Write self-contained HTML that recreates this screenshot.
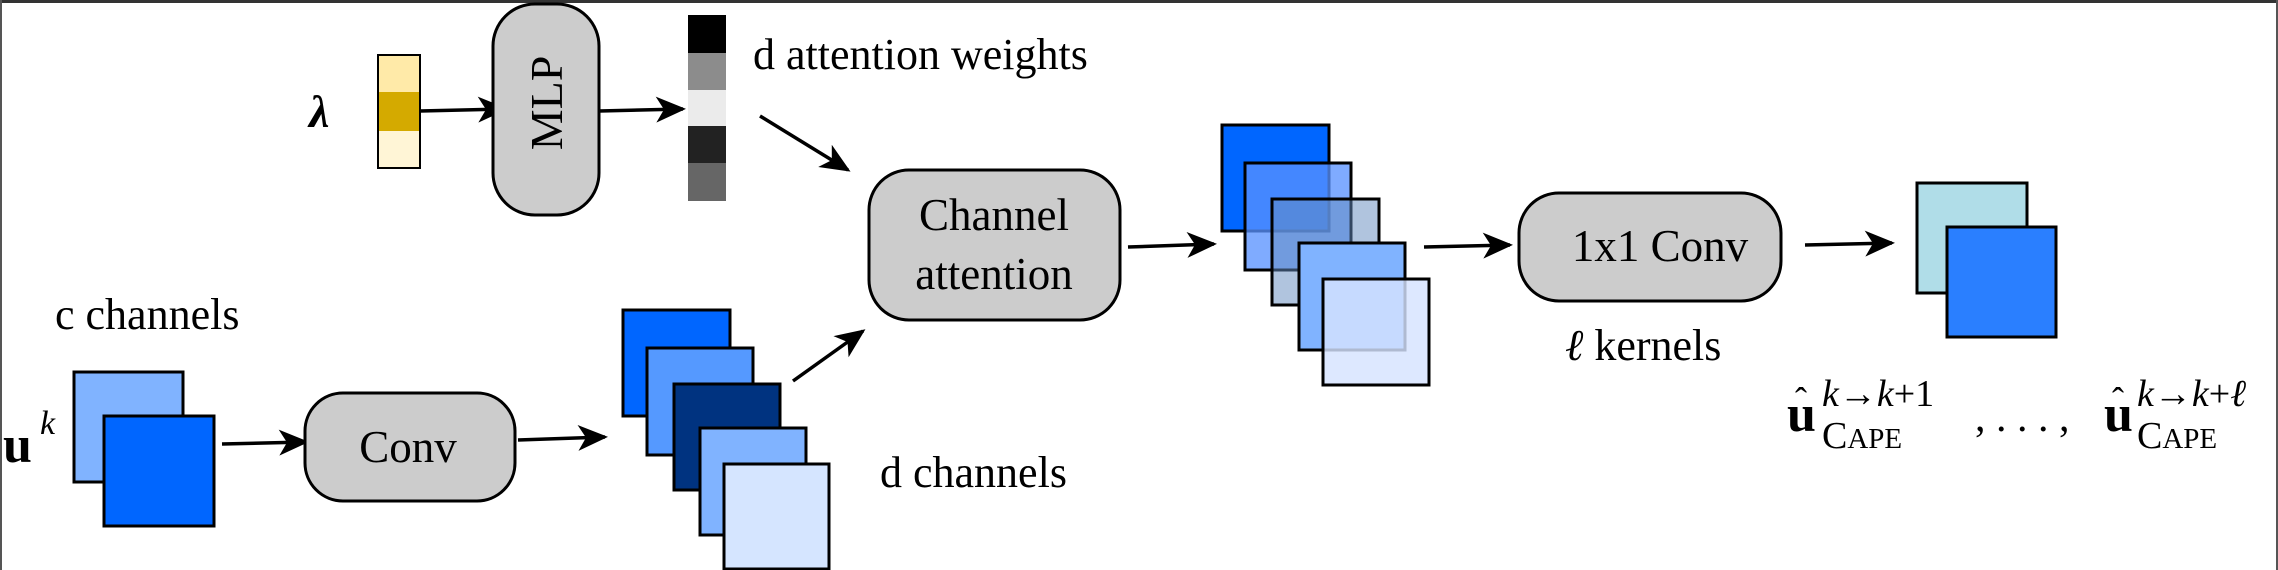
<!DOCTYPE html>
<html><head><meta charset="utf-8"><style>
html,body{margin:0;padding:0;background:#fff;}
svg{display:block;}
text{font-family:"Liberation Serif","DejaVu Serif",serif;fill:#000;}
</style></head><body>
<svg width="2278" height="570" viewBox="0 0 2278 570" xmlns="http://www.w3.org/2000/svg">
<defs>
<marker id="ah" markerWidth="30" markerHeight="30" refX="27" refY="15" orient="auto" markerUnits="userSpaceOnUse">
<path d="M0,2 L30,15 L0,28 L8,15 z" fill="#000"/>
</marker>
</defs>
<rect x="0" y="0" width="2278" height="570" fill="#fff"/>
<line x1="0" y1="1.5" x2="2278" y2="1.5" stroke="#333" stroke-width="3"/>
<line x1="1" y1="0" x2="1" y2="570" stroke="#555" stroke-width="2"/>
<line x1="2277" y1="0" x2="2277" y2="570" stroke="#555" stroke-width="2"/>

<text x="309" y="127" font-size="46" font-weight="bold" font-style="italic">λ</text>
<rect x="378" y="55" width="42" height="37" fill="#ffeaa8"/>
<rect x="378" y="92" width="42" height="39" fill="#d4aa00"/>
<rect x="378" y="131" width="42" height="37" fill="#fff5d6"/>
<rect x="378" y="55" width="42" height="113" fill="none" stroke="#000" stroke-width="2"/>
<line x1="420" y1="111" x2="505" y2="109" stroke="#000" stroke-width="3.5" marker-end="url(#ah)"/>

<rect x="493" y="4" width="106" height="211" rx="42" fill="#cccccc" stroke="#000" stroke-width="3"/>
<text x="0" y="0" font-size="46" text-anchor="middle" transform="translate(562,103) rotate(-90)">MLP</text>
<line x1="599" y1="111" x2="683" y2="109" stroke="#000" stroke-width="3.5" marker-end="url(#ah)"/>

<rect x="688" y="15" width="38" height="38" fill="#000"/>
<rect x="688" y="53" width="38" height="37" fill="#8c8c8c"/>
<rect x="688" y="90" width="38" height="36" fill="#ebebeb"/>
<rect x="688" y="126" width="38" height="37" fill="#222"/>
<rect x="688" y="163" width="38" height="38" fill="#666"/>
<text x="753" y="69" font-size="44">d attention weights</text>
<line x1="760" y1="116" x2="848" y2="170" stroke="#000" stroke-width="3.5" marker-end="url(#ah)"/>

<rect x="869" y="170" width="251" height="150" rx="40" fill="#cccccc" stroke="#000" stroke-width="3"/>
<text x="994" y="230" font-size="45" text-anchor="middle">Channel</text>
<text x="994" y="289" font-size="45" text-anchor="middle">attention</text>

<text x="55" y="329" font-size="44">c channels</text>
<text x="3" y="462" font-size="52" font-weight="bold">u</text>
<text x="40" y="434" font-size="34" font-style="italic">k</text>
<rect x="74" y="372" width="109" height="110" fill="#80b3ff" stroke="#000" stroke-width="3"/>
<rect x="104" y="416" width="110" height="110" fill="#0066ff" stroke="#000" stroke-width="3"/>
<line x1="222" y1="444" x2="306" y2="442" stroke="#000" stroke-width="3.5" marker-end="url(#ah)"/>

<rect x="305" y="393" width="210" height="108" rx="38" fill="#cccccc" stroke="#000" stroke-width="3"/>
<text x="408" y="462" font-size="45" text-anchor="middle">Conv</text>
<line x1="518" y1="440" x2="605" y2="437" stroke="#000" stroke-width="3.5" marker-end="url(#ah)"/>

<rect x="623" y="310" width="107" height="106" fill="#0066ff" stroke="#000" stroke-width="3"/>
<rect x="647" y="348" width="106" height="107" fill="#5599ff" stroke="#000" stroke-width="3"/>
<rect x="674" y="384" width="106" height="106" fill="#003380" stroke="#000" stroke-width="3"/>
<rect x="700" y="428" width="106" height="107" fill="#80b3ff" stroke="#000" stroke-width="3"/>
<rect x="724" y="464" width="105" height="105" fill="#d5e5ff" stroke="#000" stroke-width="3"/>
<text x="880" y="487" font-size="44">d channels</text>
<line x1="793" y1="381" x2="863" y2="331" stroke="#000" stroke-width="3.5" marker-end="url(#ah)"/>

<line x1="1128" y1="247" x2="1214" y2="244" stroke="#000" stroke-width="3.5" marker-end="url(#ah)"/>
<rect x="1222" y="125" width="107" height="106" fill="#0066ff" stroke="#000" stroke-width="3"/>
<rect x="1245" y="163" width="106" height="107" fill="rgba(89,146,255,0.77)" stroke="#000" stroke-width="3"/>
<rect x="1272" y="199" width="107" height="106" fill="rgba(100,139,190,0.51)" stroke="#000" stroke-width="3"/>
<rect x="1299" y="243" width="106" height="107" fill="#80b3ff" stroke="#000" stroke-width="3"/>
<rect x="1323" y="279" width="106" height="106" fill="rgba(213,227,255,0.82)" stroke="#000" stroke-width="3"/>
<line x1="1424" y1="247" x2="1510" y2="245" stroke="#000" stroke-width="3.5" marker-end="url(#ah)"/>

<rect x="1519" y="193" width="262" height="108" rx="40" fill="#cccccc" stroke="#000" stroke-width="3"/>
<text x="1660" y="261" font-size="45" text-anchor="middle">1x1 Conv</text>
<text x="1565" y="360" font-size="44"><tspan font-style="italic">ℓ</tspan> kernels</text>
<line x1="1805" y1="245" x2="1892" y2="243" stroke="#000" stroke-width="3.5" marker-end="url(#ah)"/>

<rect x="1917" y="183" width="110" height="110" fill="#b0dde8" stroke="#000" stroke-width="3"/>
<rect x="1947" y="227" width="109" height="110" fill="#2a7fff" stroke="#000" stroke-width="3"/>

<text x="1787" y="431" font-size="52" font-weight="bold">u</text>
<text x="1795" y="412" font-size="36">ˆ</text>
<text x="1822" y="406" font-size="38"><tspan font-style="italic">k</tspan>→<tspan font-style="italic">k</tspan>+1</text>
<text x="1822" y="448" font-size="38">C<tspan font-size="29">APE</tspan></text>
<text x="1975" y="431" font-size="42">, . . . ,</text>
<text x="2104" y="431" font-size="52" font-weight="bold">u</text>
<text x="2112" y="412" font-size="36">ˆ</text>
<text x="2137" y="406" font-size="38"><tspan font-style="italic">k</tspan>→<tspan font-style="italic">k</tspan>+<tspan font-style="italic">ℓ</tspan></text>
<text x="2137" y="448" font-size="38">C<tspan font-size="29">APE</tspan></text>
</svg>
</body></html>
